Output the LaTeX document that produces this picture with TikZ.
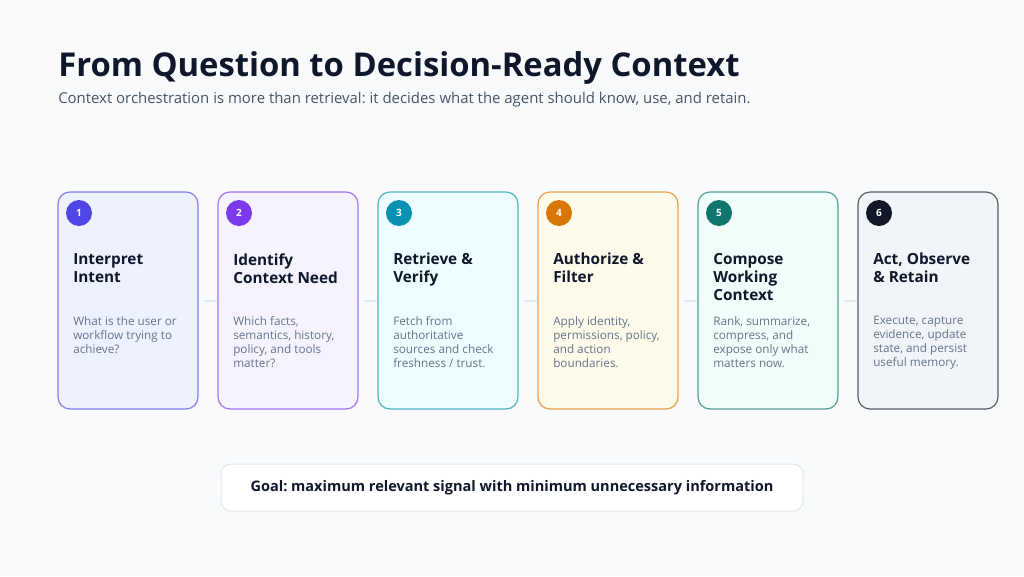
\documentclass[tikz,border=0pt]{standalone}
\usepackage{fontspec}
\setmainfont{Open Sans}
\usepackage{tikz}
\frenchspacing
\definecolor{pagebg}{HTML}{F8FAFC}
\definecolor{ink}{HTML}{0F172A}
\definecolor{subink}{HTML}{475569}
\definecolor{descink}{HTML}{64748B}
\definecolor{linkgray}{HTML}{E2E8F0}
\definecolor{indigoStep}{HTML}{4F46E5}\definecolor{indigoTint}{HTML}{EEF2FF}
\definecolor{violetStep}{HTML}{7C3AED}\definecolor{violetTint}{HTML}{F5F3FF}
\definecolor{cyanStep}{HTML}{0891B2}\definecolor{cyanTint}{HTML}{ECFEFF}
\definecolor{amberStep}{HTML}{D97706}\definecolor{amberTint}{HTML}{FFFBEB}
\definecolor{tealStep}{HTML}{0F766E}\definecolor{tealTint}{HTML}{F0FDFA}
\definecolor{slateStep}{HTML}{111827}\definecolor{slateTint}{HTML}{F1F5F9}
\tikzstyle{card}=[draw,rounded corners=9pt,line width=0.9pt,minimum width=105pt,minimum height=162.75pt,inner sep=0pt]
\tikzstyle{badge}=[circle,minimum size=19.5pt,inner sep=0pt,text=white,font=\bfseries\fontsize{7.5}{9}\selectfont]
\tikzstyle{card title}=[anchor=north west,inner sep=0pt,align=left,text=ink,font=\bfseries\fontsize{11.5}{13.5}\selectfont]
\tikzstyle{card text}=[anchor=north west,inner sep=0pt,align=left,text=descink,font=\fontsize{8.8}{10.5}\selectfont]
\tikzstyle{edge}=[draw,linkgray,line width=1.5pt,shorten <=4pt]
\tikzstyle{goal box}=[draw=linkgray,fill=white,rounded corners=7.5pt,line width=0.75pt,minimum width=436.5pt,minimum height=35.25pt,text=ink,font=\bfseries\fontsize{10.9}{13}\selectfont]

\begin{document}
\begin{tikzpicture}[x=0.75pt,y=-0.75pt]
    \fill[pagebg] (0,0) rectangle (1024,576);

    % Heading and subtitle
    \node[anchor=base west,inner sep=0pt,text=ink,font=\bfseries\fontsize{24.6}{29}\selectfont] (heading) at (58,76) {From Question to Decision-Ready Context};
    \node[anchor=base west,inner sep=0pt,text=subink,font=\fontsize{11.2}{13}\selectfont] (subheading) at (58,103) {Context orchestration is more than retrieval: it decides what the agent should know, use, and retain.};

    % First we draw the cards
    \foreach \i/\c/\f/\ttl/\dsc in {
        {1/indigoStep/indigoTint/{Interpret\\Intent}/{What is the user or\\workflow trying to\\achieve?}},
        {2/violetStep/violetTint/{Identify\\Context Need}/{Which facts,\\semantics, history,\\policy, and tools\\matter?}},
        {3/cyanStep/cyanTint/{Retrieve \&\\Verify}/{Fetch from\\authoritative\\sources and check\\freshness / trust.}},
        {4/amberStep/amberTint/{Authorize \&\\Filter}/{Apply identity,\\permissions, policy,\\and action\\boundaries.}},
        {5/tealStep/tealTint/{Compose\\Working\\Context}/{Rank, summarize,\\compress, and\\expose only what\\matters now.}},
        {6/slateStep/slateTint/{Act, Observe\\\& Retain}/{Execute, capture\\evidence, update\\state, and persist\\useful memory.}}}
    {
        \node[card,draw=\c!70!white,fill=\f] (card\i) at ({128+160*(\i-1)},300.5) {};
        \node[badge,fill=\c] (badge\i) at ({79+160*(\i-1)},213) {\i};
        \node[card title] (title\i) at ({73+160*(\i-1)},253) {\ttl};
        \node[card text] (text\i) at ({73+160*(\i-1)},316) {\dsc};
    }

    % Connect cards with links
    \foreach \source/\dest in {1/2,2/3,3/4,4/5,5/6}
        \path[edge] (card\source) -- (card\dest);

    % Goal banner
    \node[goal box] (goal) at (512,487.5) {Goal: maximum relevant signal with minimum unnecessary information};
\end{tikzpicture}
\end{document}
